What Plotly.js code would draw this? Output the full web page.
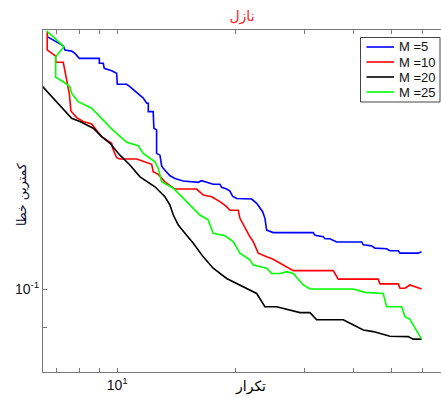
<!DOCTYPE html>
<html>
<head>
<meta charset="utf-8">
<script src="https://cdn.plot.ly/plotly-3.0.1.min.js"></script>
<style>html,body{margin:0;padding:0;background:#fff;}#chart{width:441px;height:398px;}</style>
</head>
<body>
<div id="chart"></div>
<script>
// ---- data ----
const seriesNames = ['M =5', 'M =10', 'M =20', 'M =25'];
const seriesColors = ['#0000ff', '#ff0000', '#000000', '#00ff00'];

const x_M5 = [6.628, 7.282, 7.355, 7.650, 7.800, 7.952, 8.0, 9.0, 9.0, 9.211, 9.265, 9.676, 9.965, 10.0, 10.57, 10.77, 11.31, 11.65, 11.89, 12.0, 12.0, 12.35, 12.40, 12.60, 12.60, 12.85, 12.98, 13.10, 13.63, 14.03, 14.73, 15.63, 16.09, 16.41, 16.90, 17.57, 18.28, 18.46, 19.01, 19.38, 19.69, 20.16, 22.02, 22.68, 23.49, 23.81, 24.05, 25.0, 31.62, 31.94, 33.54, 33.87, 34.88, 36.28, 42.03, 42.43, 44.56, 45.43, 48.66, 49.62, 52.10, 52.63, 58.58, 59.75];
const y_M5 = [0.1981, 0.1933, 0.1911, 0.1905, 0.1893, 0.1876, 0.1868, 0.1868, 0.1843, 0.1843, 0.1818, 0.1806, 0.1794, 0.1741, 0.1741, 0.1730, 0.1699, 0.1677, 0.1654, 0.1654, 0.1617, 0.1617, 0.1546, 0.1539, 0.1444, 0.1437, 0.1396, 0.1387, 0.1359, 0.1349, 0.1340, 0.1335, 0.1335, 0.1341, 0.1335, 0.1328, 0.1328, 0.1317, 0.1311, 0.1304, 0.1286, 0.1278, 0.1276, 0.1261, 0.1233, 0.1211, 0.1173, 0.1165, 0.1165, 0.1157, 0.1152, 0.1146, 0.1146, 0.1136, 0.1136, 0.1127, 0.1124, 0.1117, 0.1115, 0.1109, 0.1109, 0.1102, 0.1102, 0.1106];

const x_M10 = [6.628, 6.628, 6.964, 6.964, 7.282, 7.428, 7.543, 7.618, 7.878, 8.190, 8.603, 8.772, 9.125, 9.484, 9.676, 9.734, 9.965, 10.16, 11.21, 12.24, 12.35, 12.72, 13.23, 14.03, 15.94, 16.57, 17.41, 18.28, 19.01, 19.38, 20.35, 20.56, 21.38, 21.80, 22.23, 22.89, 24.05, 25.0, 28.12, 35.56, 36.63, 46.31, 46.78, 52.10, 52.63, 54.19, 55.80, 57.45, 59.75];
const y_M10 = [0.2008, 0.1911, 0.1879, 0.1848, 0.1848, 0.1769, 0.1699, 0.1620, 0.1591, 0.1574, 0.1564, 0.1546, 0.1511, 0.1493, 0.1484, 0.1464, 0.1427, 0.1422, 0.1422, 0.1402, 0.1374, 0.1364, 0.1337, 0.1311, 0.1311, 0.1290, 0.1284, 0.1267, 0.1250, 0.1238, 0.1238, 0.1211, 0.1168, 0.1152, 0.1137, 0.1102, 0.1091, 0.1084, 0.1051, 0.1051, 0.1027, 0.1027, 0.1014, 0.1014, 0.1002, 0.1002, 0.1011, 0.1006, 0.1000];

const x_M20 = [6.45, 6.935, 7.215, 7.650, 8.031, 8.685, 9.125, 9.581, 10.16, 10.77, 11.43, 12.48, 13.23, 13.63, 13.90, 14.31, 15.03, 15.63, 16.57, 17.57, 19.01, 20.96, 22.68, 23.81, 25.51, 29.25, 31.02, 32.26, 37.72, 42.43, 44.98, 49.62, 55.25, 56.88, 59.75];
const y_M20 = [0.1730, 0.1669, 0.1639, 0.1588, 0.1574, 0.1546, 0.1511, 0.1484, 0.1437, 0.1399, 0.1355, 0.1319, 0.1284, 0.1255, 0.1222, 0.1189, 0.1157, 0.1132, 0.1091, 0.1058, 0.1029, 0.1006, 0.0988, 0.0953, 0.0953, 0.0938, 0.0938, 0.0920, 0.0920, 0.0895, 0.0891, 0.0880, 0.0879, 0.0873, 0.0873];

const x_M25 = [6.605, 7.311, 6.964, 6.964, 7.282, 7.573, 7.650, 7.952, 8.603, 9.035, 9.676, 10.57, 11.31, 11.65, 12.48, 12.72, 12.98, 13.90, 14.73, 16.25, 17.06, 17.57, 18.82, 19.76, 20.56, 21.80, 22.23, 24.05, 24.77, 26.0, 27.05, 28.12, 29.82, 31.02, 40.0, 42.85, 47.70, 48.66, 53.15, 54.19, 55.80, 57.45, 59.75];
const y_M25 = [0.2012, 0.1928, 0.1876, 0.1774, 0.1753, 0.1730, 0.1699, 0.1661, 0.1632, 0.1595, 0.1543, 0.1488, 0.1474, 0.1444, 0.1411, 0.1387, 0.1337, 0.1314, 0.1278, 0.1222, 0.1206, 0.1163, 0.1155, 0.1137, 0.1102, 0.1082, 0.1067, 0.1058, 0.1043, 0.1043, 0.1048, 0.1043, 0.1011, 0.1000, 0.1000, 0.0991, 0.0988, 0.0953, 0.0953, 0.0928, 0.0921, 0.0899, 0.0873];

const xTickVals = [10];
const xTickText = ['10<sup>1</sup>'];
const xMinorTickVals = [7, 8, 9, 20, 30, 40, 50, 60];
const yTickVals = [0.1];
const yTickText = ['10<sup>-1</sup>'];
const yMinorTickVals = [0.09];

const chartTitle = 'نازل';
const xTitle = 'تکرار';
const yTitle = 'کمترین خطا';

// ---- build ----
const xs = [x_M5, x_M10, x_M20, x_M25];
const ys = [y_M5, y_M10, y_M20, y_M25];
const traces = seriesNames.map((name, i) => ({
  type: 'scatter', mode: 'lines', name: name,
  x: xs[i], y: ys[i],
  line: {color: seriesColors[i], width: 1.6},
  showlegend: false
}));

const W = 441, H = 398, L = 43, R = 0, T = 30, B = 26;
const pw = W - L - R, ph = H - T - B;
const px = v => (v - L) / pw;          // pixel -> paper x
const py = v => (H - B - v) / ph;      // pixel -> paper y

const shapes = [{
  type: 'rect', xref: 'paper', yref: 'paper',
  x0: px(360.5), x1: px(440), y0: py(102), y1: py(37.5),
  line: {color: '#444', width: 1}, fillcolor: '#fff'
}];
const annotations = [];
const entryY = [47, 62, 77, 92];
seriesNames.forEach((name, i) => {
  shapes.push({type: 'line', xref: 'paper', yref: 'paper',
    x0: px(366.5), x1: px(394), y0: py(entryY[i]), y1: py(entryY[i]),
    line: {color: seriesColors[i], width: 1.6}});
  annotations.push({xref: 'paper', yref: 'paper', x: px(396.5), y: py(entryY[i]),
    xanchor: 'left', yanchor: 'middle', showarrow: false, text: name,
    font: {family: 'Liberation Sans, Arial, sans-serif', size: 13, color: '#111'}});
});
annotations.push({xref: 'paper', yref: 'paper', x: px(250), y: py(387),
  xanchor: 'center', yanchor: 'middle', showarrow: false, text: xTitle,
  font: {family: 'DejaVu Sans, sans-serif', size: 14, color: '#000'}});
annotations.push({xref: 'paper', yref: 'paper', x: px(22), y: py(195),
  xanchor: 'center', yanchor: 'middle', showarrow: false, text: yTitle, textangle: -90,
  font: {family: 'DejaVu Sans, sans-serif', size: 12.5, color: '#000022'}});

const axisCommon = {
  type: 'log', showgrid: false, zeroline: false,
  showline: true, linecolor: '#777', linewidth: 1,
  ticks: 'inside', ticklen: 4, tickcolor: '#777', tickwidth: 1,
  tickmode: 'array',
  tickfont: {family: 'Liberation Sans, Arial, sans-serif', size: 14, color: '#111'}
};
const minorCommon = {ticks: 'inside', ticklen: 4, tickcolor: '#777', tickwidth: 1, showgrid: false, tickmode: 'array'};

const layout = {
  width: W, height: H,
  margin: {l: L, r: R, t: T, b: B, pad: 0},
  paper_bgcolor: '#fff', plot_bgcolor: '#fff',
  showlegend: false,
  title: {text: chartTitle, x: 0.5, xref: 'paper', y: 1 - 16.5 / H, yref: 'container',
    xanchor: 'center', yanchor: 'middle',
    font: {family: 'DejaVu Sans, sans-serif', size: 14, color: '#ff2020'}},
  xaxis: Object.assign({}, axisCommon, {
    range: [Math.log10(6.465), Math.log10(6.465) + pw / 392],
    tickvals: xTickVals, ticktext: xTickText, mirror: 'ticks',
    minor: Object.assign({}, minorCommon, {tickvals: xMinorTickVals})
  }),
  yaxis: Object.assign({}, axisCommon, {
    range: [-1 - 83 / 850, -1 - 83 / 850 + ph / 850],
    tickvals: yTickVals, ticktext: yTickText, mirror: false,
    minor: Object.assign({}, minorCommon, {tickvals: yMinorTickVals})
  }),
  shapes: shapes,
  annotations: annotations
};

Plotly.newPlot('chart', traces, layout, {displayModeBar: false, staticPlot: true});
</script>
</body>
</html>
